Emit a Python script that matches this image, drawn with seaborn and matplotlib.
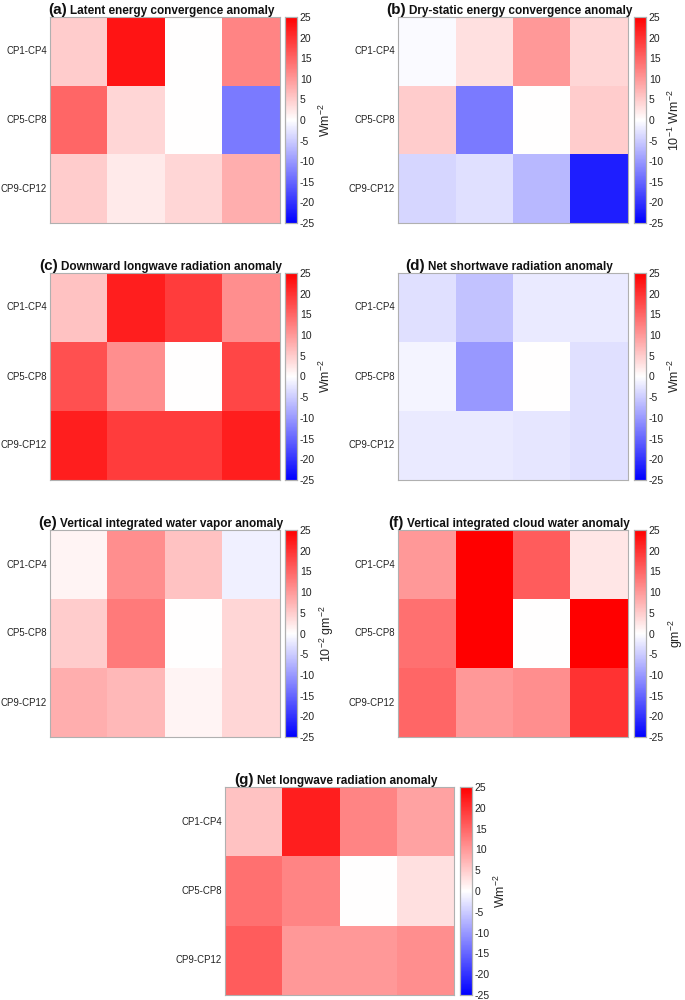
import numpy as np
import pandas as pd
import matplotlib
matplotlib.use("Agg")
import matplotlib.pyplot as plt
import seaborn as sns
from matplotlib.colors import LinearSegmentedColormap

# periods (rows) and 4 unnamed columns
rows = ["CP1-CP4", "CP5-CP8", "CP9-CP12"]
cols = ["c1", "c2", "c3", "c4"]

latent_conv = [[5, 23, 0, 12], [15, 4, 0, -13], [5, 2, 4, 8]]
dry_static_conv = [[-0.5, 3, 10, 4], [5, -13, 0, 5], [-4, -3, -7, -22]]
down_lw = [[6, 22, 19, 11], [17, 11, 0, 18], [22, 19, 19, 22]]
net_sw = [[-3, -6, -2, -2], [-1, -10, 0, -3], [-2, -2, -2.5, -3]]
water_vapor = [[1, 11, 6, -1.5], [5, 13, 0, 4], [8, 7, 1, 4]]
cloud_water = [[10, 25, 16, 2.5], [14, 25, 0, 25], [15, 10, 11, 20]]
net_lw = [[6, 22, 12, 9], [14, 12, 0, 3], [16, 10, 10, 11]]

panels = [
    ("(a)", "Latent energy convergence anomaly", latent_conv, "Wm$^{-2}$"),
    ("(b)", "Dry-static energy convergence anomaly", dry_static_conv, "10$^{-1}$ Wm$^{-2}$"),
    ("(c)", "Downward longwave radiation anomaly", down_lw, "Wm$^{-2}$"),
    ("(d)", "Net shortwave radiation anomaly", net_sw, "Wm$^{-2}$"),
    ("(e)", "Vertical integrated water vapor anomaly", water_vapor, "10$^{-2}$ gm$^{-2}$"),
    ("(f)", "Vertical integrated cloud water anomaly", cloud_water, "gm$^{-2}$"),
    ("(g)", "Net longwave radiation anomaly", net_lw, "Wm$^{-2}$"),
]

cbar_ticks = list(range(-25, 30, 5))

# pixel boxes: heatmap (x0, y0, x1, y1), colorbar x0
W, H = 685, 1000
boxes = [
    (50, 17, 280, 223, 285),
    (398, 17, 628, 223, 634),
    (50, 273, 280, 480, 285),
    (398, 273, 628, 480, 634),
    (50, 530, 280, 737, 285),
    (398, 530, 628, 737, 634),
    (225, 787, 454, 995, 460),
]

sns.set_theme(style="white")
plt.rcParams["font.family"] = ["Liberation Sans", "DejaVu Sans"]
plt.rcParams["axes.unicode_minus"] = False
plt.rcParams["mathtext.fontset"] = "custom"
plt.rcParams["mathtext.rm"] = "Liberation Sans"

cmap = LinearSegmentedColormap.from_list("bwr_matlab", [(0, 0, 1), (1, 1, 1), (1, 0, 0)], N=256)

fig = plt.figure(figsize=(W / 100, H / 100), dpi=100)


def to_fig(x0, y0, x1, y1):
    return [x0 / W, 1 - y1 / H, (x1 - x0) / W, (y1 - y0) / H]


titles = []
for (lab, title, vals, unit), (x0, y0, x1, y1, cx) in zip(panels, boxes):
    ax = fig.add_axes(to_fig(x0, y0, x1, y1))
    cax = fig.add_axes(to_fig(cx, y0, cx + 12, y1))
    df = pd.DataFrame(vals, index=rows, columns=cols)
    sns.heatmap(df, ax=ax, cbar_ax=cax, cmap=cmap, vmin=-25, vmax=25,
                xticklabels=False, yticklabels=True, linewidths=0,
                cbar_kws={"ticks": cbar_ticks})
    ax.tick_params(axis="y", left=True, right=True, direction="in", length=3,
                   width=0.6, color="#555555", labelsize=6.9, pad=2, labelcolor="#222222")
    ax.tick_params(axis="x", bottom=False)
    for lbl in ax.get_yticklabels():
        lbl.set_rotation(0)
    for sp in ax.spines.values():
        sp.set_visible(True)
        sp.set_color("#b0b0b0")
        sp.set_linewidth(0.8)

    # bold title plus larger panel letter, placed later as one centred line
    t = fig.text(0, 1 - (y0 - 3) / H, title, fontsize=8.5, fontweight="bold",
                 ha="left", va="baseline", color="#111111")
    l = fig.text(0, 1 - (y0 - 3) / H, lab, fontsize=11, fontweight="bold",
                 ha="left", va="baseline", color="#111111")
    titles.append((t, l, (x0 + x1) / 2))

    cax.tick_params(direction="in", length=3, width=0.6, labelsize=7.5,
                    color="#555555", labelcolor="#222222", pad=2)
    cax.set_ylabel(unit, fontsize=9, labelpad=2)
    for sp in cax.spines.values():
        sp.set_visible(True)
        sp.set_color("#b0b0b0")
        sp.set_linewidth(0.8)

fig.canvas.draw()
r = fig.canvas.get_renderer()
gap = 3
for t, l, xc in titles:
    wt = t.get_window_extent(r).width
    wl = l.get_window_extent(r).width
    total = wl + gap + wt
    start = xc - total / 2 - 4
    l.set_x(start / W)
    t.set_x((start + wl + gap) / W)

fig.savefig("out.png", dpi=100, facecolor="white")
